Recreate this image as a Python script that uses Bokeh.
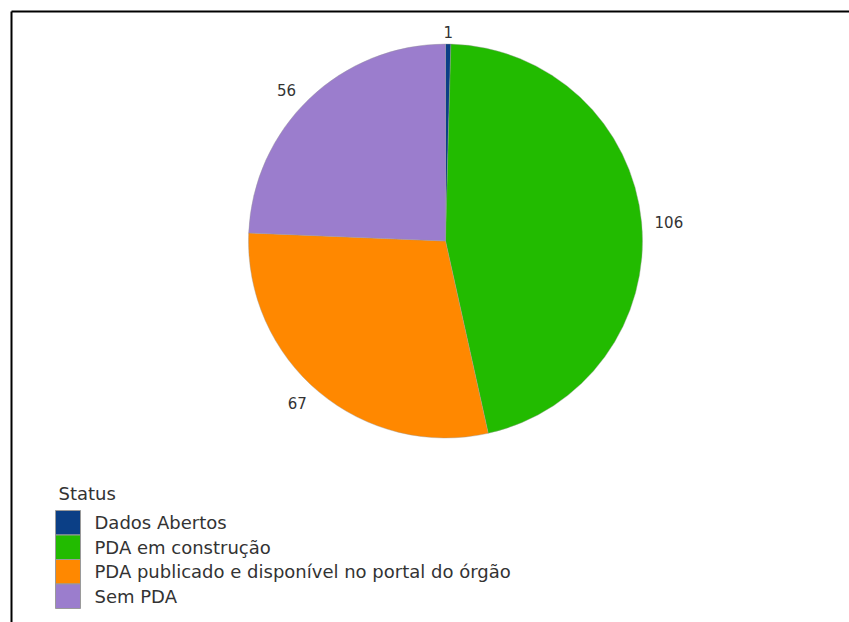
import math
from bokeh.plotting import figure
from bokeh.models import ColumnDataSource
from bokeh.core.properties import value
from bokeh.embed import file_html
from bokeh.resources import INLINE

# ---- data ----
categories = ["Dados Abertos", "PDA em construção",
              "PDA publicado e disponível no portal do órgão", "Sem PDA"]
counts = [1, 106, 67, 56]
colors = ["#0b3f86", "#22bb00", "#ff8800", "#9b7dcd"]
legend_title = "Status"

W, H = 849, 622
p = figure(width=W, height=H, x_range=(0, W), y_range=(0, H),
           output_backend="svg", toolbar_location=None, min_border=0)
p.axis.visible = False
p.grid.visible = False
p.outline_line_color = None
p.background_fill_color = "white"
p.border_fill_color = "white"

def Y(y):
    return H - y

FONT = value("DejaVu Sans")

# frame lines (top and left)
p.line([11, W + 5], [Y(11), Y(11)], line_color="black", line_width=2)
p.line([11, 11], [Y(11), Y(H + 5)], line_color="black", line_width=2)

# ---- pie ----
cx, cy, R = 445, Y(240.5), 197
total = sum(counts)
starts, ends, mids = [], [], []
cum = 0
for c in counts:
    a0 = math.pi / 2 - 2 * math.pi * cum / total
    cum += c
    a1 = math.pi / 2 - 2 * math.pi * cum / total
    starts.append(a0)
    ends.append(a1)
    mids.append((a0 + a1) / 2)

src = ColumnDataSource(dict(start=starts, end=ends, color=colors, cat=categories))
p.wedge(x=cx, y=cy, radius=R, start_angle="start", end_angle="end",
        direction="clock", fill_color="color", line_color="#9a9a9a",
        line_width=0.4, source=src)

# ---- value labels ----
RL = 210
lx, ly, la, lt = [], [], [], []
for m, c in zip(mids, counts):
    cs = math.cos(m)
    off = -4 if cs < -0.1 else 0
    lx.append(cx + RL * cs + off)
    ly.append(cy + RL * math.sin(m) - 1)
    la.append("left" if cs > 0.1 else ("right" if cs < -0.1 else "center"))
    lt.append(str(c))
p.text(x=lx, y=ly, text=lt, text_align=la, text_baseline="middle",
       text_font=FONT, text_font_size="15px", text_color="#333333")

# ---- legend (drawn) ----
lg_x, lg_top, row_h, sw_w = 55, 510, 24.5, 25
p.text(x=[lg_x + 3], y=[Y(lg_top - 17)], text=[legend_title],
       text_baseline="middle", text_font=FONT,
       text_font_size="18px", text_color="#333333")
rows = list(range(len(categories)))
rx = [lg_x + sw_w / 2] * len(rows)
ry = [Y(lg_top + row_h * (i + 0.5)) for i in rows]
p.rect(x=rx, y=ry, width=sw_w, height=row_h, fill_color=colors,
       line_color="#9a9a9a", line_width=1)
p.text(x=[lg_x + 39] * len(rows), y=ry, text=categories,
       text_baseline="middle", text_font=FONT,
       text_font_size="18px", text_color="#333333")

open("out.html", "w").write(file_html(p, INLINE))
